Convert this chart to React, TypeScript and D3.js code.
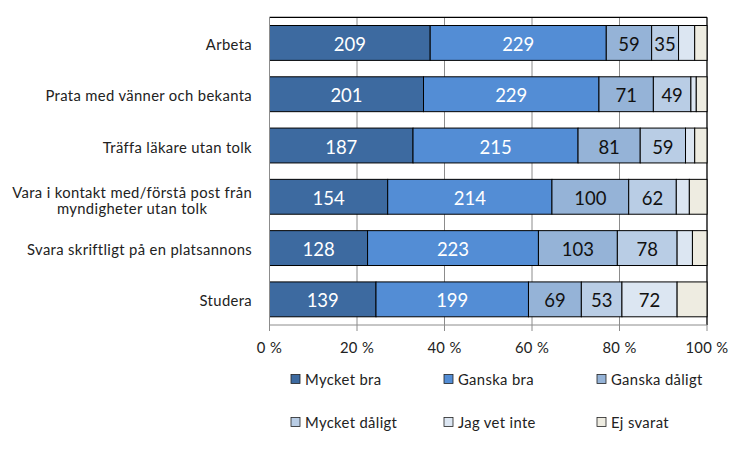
import React, { useEffect, useRef } from "react";
import * as d3 from "d3";

const categories = [
  "Arbeta",
  "Prata med vänner och bekanta",
  "Träffa läkare utan tolk",
  "Vara i kontakt med/förstå post från\nmyndigheter utan tolk",
  "Svara skriftligt på en platsannons",
  "Studera",
];
const seriesNames = ["Mycket bra", "Ganska bra", "Ganska dåligt", "Mycket dåligt", "Jag vet inte", "Ej svarat"];
const mycketBra = [209, 201, 187, 154, 128, 139];
const ganskaBra = [229, 229, 215, 214, 223, 199];
const ganskaDaligt = [59, 71, 81, 100, 103, 69];
const mycketDaligt = [35, 49, 59, 62, 78, 53];
const jagVetInte = [21, 7, 12, 17, 20, 72];
const ejSvarat = [16, 14, 16, 23, 19, 39];
const tickLabels = ["0 %", "20 %", "40 %", "60 %", "80 %", "100 %"];

const colors = ["#3D6AA0", "#538DD5", "#95B3D7", "#B9CDE5", "#DCE6F2", "#EEECE1"];
const labelColors = ["#FFFFFF", "#FFFFFF", "#111111", "#111111", "#111111", "#111111"];
const FONT = "Lato, 'Open Sans', sans-serif";
const TXT = 14.8;
const LS = 0.35;

export default function App() {
  const ref = useRef<SVGSVGElement | null>(null);

  useEffect(() => {
    const svg = d3.select(ref.current);
    svg.selectAll("*").remove();

    const left = 269.5, right = 707, top = 17.3, bottom = 325;
    const allSeries = [mycketBra, ganskaBra, ganskaDaligt, mycketDaligt, jagVetInte, ejSvarat];
    const rows = categories.map((c, i) => {
      const o: any = { cat: c };
      seriesNames.forEach((s, j) => (o[s] = allSeries[j][i]));
      return o;
    });
    const stacked = d3.stack().keys(seriesNames).offset(d3.stackOffsetExpand)(rows as any);

    const x = d3.scaleLinear().domain([0, 1]).range([left, right]);
    const y = d3.scaleBand<string>().domain(categories).range([top, bottom]).paddingInner(0.32).paddingOuter(0.16);

    // gridlines
    const g = svg.append("g");
    [0.2, 0.4, 0.6, 0.8].forEach((t) => {
      g.append("line").attr("x1", x(t)).attr("x2", x(t)).attr("y1", top).attr("y2", bottom)
        .attr("stroke", "#8C8C8C").attr("stroke-width", 1);
    });
    // plot border top/right
    g.append("line").attr("x1", left).attr("x2", right).attr("y1", top).attr("y2", top).attr("stroke", "#000").attr("stroke-width", 1.3);
    g.append("line").attr("x1", right).attr("x2", right).attr("y1", top).attr("y2", bottom).attr("stroke", "#000").attr("stroke-width", 1.3);

    // bars
    stacked.forEach((layer: any, j: number) => {
      const lg = svg.append("g");
      layer.forEach((d: any, i: number) => {
        const x0 = x(d[0]), x1 = x(d[1]);
        const yy = y(categories[i])!;
        lg.append("rect").attr("x", x0).attr("y", yy).attr("width", x1 - x0).attr("height", y.bandwidth())
          .attr("fill", colors[j]).attr("stroke", "#000").attr("stroke-width", 1);
        const v = allSeries[j][i];
        if (j < 5 && v >= 30) {
          lg.append("text").attr("x", (x0 + x1) / 2).attr("y", yy + y.bandwidth() / 2 + 1)
            .attr("text-anchor", "middle").attr("dominant-baseline", "central")
            .attr("font-family", FONT).attr("font-size", 18.5).attr("fill", labelColors[j]).text(v);
        }
      });
    });

    // axes
    svg.append("line").attr("x1", left).attr("x2", left).attr("y1", top).attr("y2", bottom).attr("stroke", "#8C8C8C");
    svg.append("line").attr("x1", left).attr("x2", right).attr("y1", bottom).attr("y2", bottom).attr("stroke", "#8C8C8C");
    const ticks = [0, 0.2, 0.4, 0.6, 0.8, 1];
    ticks.forEach((t, i) => {
      svg.append("line").attr("x1", x(t)).attr("x2", x(t)).attr("y1", bottom).attr("y2", bottom + 6).attr("stroke", "#8C8C8C");
      svg.append("text").attr("x", x(t)).attr("y", 347).attr("text-anchor", "middle").attr("dominant-baseline", "central")
        .attr("font-family", FONT).attr("font-size", TXT).attr("letter-spacing", LS).attr("fill", "#222").text(tickLabels[i]);
    });

    // category labels
    categories.forEach((c) => {
      const cy = y(c)! + y.bandwidth() / 2;
      const lines = c.split("\n");
      if (lines.length === 1) {
        svg.append("text").attr("x", 252).attr("y", cy + 1).attr("text-anchor", "end").attr("dominant-baseline", "central")
          .attr("font-family", FONT).attr("font-size", TXT).attr("letter-spacing", LS).attr("fill", "#222").text(c);
      } else {
        const t1 = svg.append("text").attr("x", 252).attr("y", cy - 5).attr("text-anchor", "end").attr("dominant-baseline", "central")
          .attr("font-family", FONT).attr("font-size", TXT).attr("letter-spacing", LS).attr("fill", "#222").text(lines[0]);
        const w = (t1.node() as SVGTextElement).getComputedTextLength();
        svg.append("text").attr("x", 252 - w / 2).attr("y", cy + 11.5).attr("text-anchor", "middle").attr("dominant-baseline", "central")
          .attr("font-family", FONT).attr("font-size", TXT).attr("letter-spacing", LS).attr("fill", "#222").text(lines[1]);
      }
    });

    // legend
    const colX = [291, 444, 597];
    const rowY = [379, 422];
    seriesNames.forEach((s, j) => {
      const cx = colX[j % 3], cy = rowY[Math.floor(j / 3)];
      svg.append("rect").attr("x", cx).attr("y", cy - 4.5).attr("width", 9).attr("height", 9)
        .attr("fill", colors[j]).attr("stroke", "#222").attr("stroke-width", 0.8);
      svg.append("text").attr("x", cx + 14).attr("y", cy).attr("dominant-baseline", "central")
        .attr("font-family", FONT).attr("font-size", TXT).attr("letter-spacing", LS).attr("fill", "#222").text(s);
    });
  }, []);

  return (
    <svg ref={ref} width={750} height={450} style={{ position: "absolute", left: 0, top: 0, background: "#fff" }} />
  );
}
